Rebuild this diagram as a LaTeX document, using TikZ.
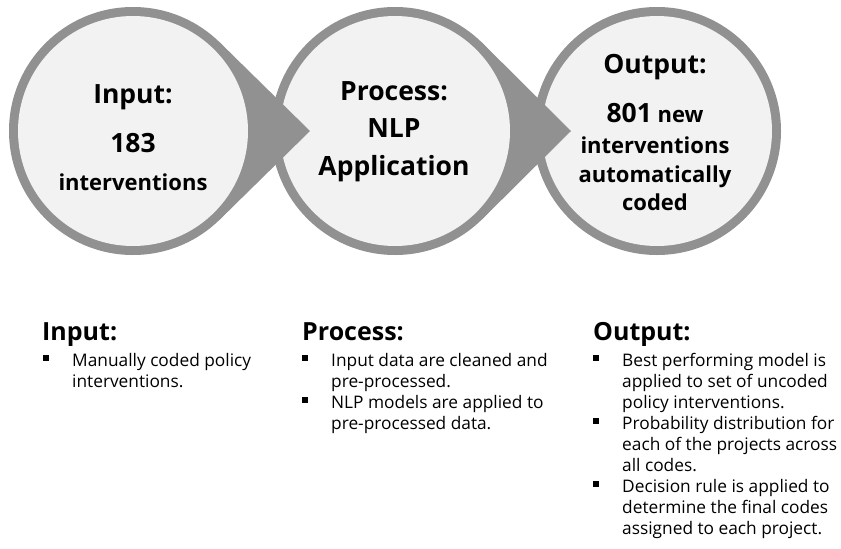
\documentclass[tikz,border=0pt]{standalone}
\usepackage{fontspec}
\setmainfont{Open Sans}
\usetikzlibrary{positioning,calc}
\definecolor{ringgray}{RGB}{145,145,145}
\definecolor{discgray}{RGB}{242,242,242}
\newcommand{\bul}{\makebox[29pt][l]{\raisebox{5.5pt}{\rule{6pt}{6pt}}}}
\newcommand{\ind}{\hspace*{29pt}}

\begin{document}
\begin{tikzpicture}[x=1pt,y=-1pt,
    ring/.style={fill=ringgray},
    disc/.style={fill=discgray},
    big/.style={font=\fontsize{26.5}{32}\selectfont\bfseries, inner sep=0pt, anchor=base},
    small/.style={font=\fontsize{22}{26}\selectfont\bfseries, inner sep=0pt, anchor=base},
    colhead/.style={font=\fontsize{25}{30}\selectfont\bfseries, inner sep=0pt, anchor=base west},
    collist/.style={font=\fontsize{17.3}{21}\selectfont, align=left, inner sep=0pt, anchor=north west}]

  \useasboundingbox (0,0) rectangle (841,549);
  \coordinate (c1) at (133,131);
  \coordinate (c2) at (395,131);
  \coordinate (c3) at (657,131);
  \coordinate (tip1) at (310,131);
  \coordinate (tip2) at (571,131);

  % last circle first, so each pointer lies on the next circle
  \fill[ring] (c3) circle (124pt);
  \fill[disc] (c3) circle (115pt);
  \foreach \c/\t in {c2/tip2, c1/tip1}{
    \fill[ring] (\c) circle (124pt);
    \fill[ring] (\c) -- ($(\c)+(45.5:124)$) -- (\t) -- ($(\c)+(-45.5:124)$) -- cycle;
    \fill[disc] (\c) circle (115pt);
  }

  % circle texts
  \node[big] (inhead) at (133,103) {Input:};
  \node[big] (innum) at (133,152) {183};
  \node[small] (inunit) at (133,190) {interventions};
  \node[big] (prhead) at (394,100) {Process:};
  \node[big] (prnlp) at (394,137.5) {NLP};
  \node[big] (prapp) at (394,175) {Application};
  \node[big] (outhead) at (655,73) {Output:};
  \node[small] (outnum) at (655,122) {{\fontsize{26.5}{32}\selectfont 801} new};
  \node[small] (outunit) at (655,153) {interventions};
  \node[small] (outhow) at (655,182) {automatically};
  \node[small] (outend) at (655,210) {coded};

  % notes below
  \node[colhead] (inhd) at (42,340) {Input:};
  \node[collist] (inlist) at (43,353.5) {\bul Manually coded policy\\\ind interventions.};
  \node[colhead] (prhd) at (302,340) {Process:};
  \node[collist] (prlist) at (302,353.5) {\bul Input data are cleaned and\\\ind pre-processed.\\
    \bul NLP models are applied to\\\ind pre-processed data.};
  \node[colhead] (outhd) at (593,340) {Output:};
  \node[collist] (outlist) at (593,353.5) {\bul Best performing model is\\\ind applied to set of uncoded\\\ind policy interventions.\\
    \bul Probability distribution for\\\ind each of the projects across\\\ind all codes.\\
    \bul Decision rule is applied to\\\ind determine the final codes\\\ind assigned to each project.};
\end{tikzpicture}
\end{document}
